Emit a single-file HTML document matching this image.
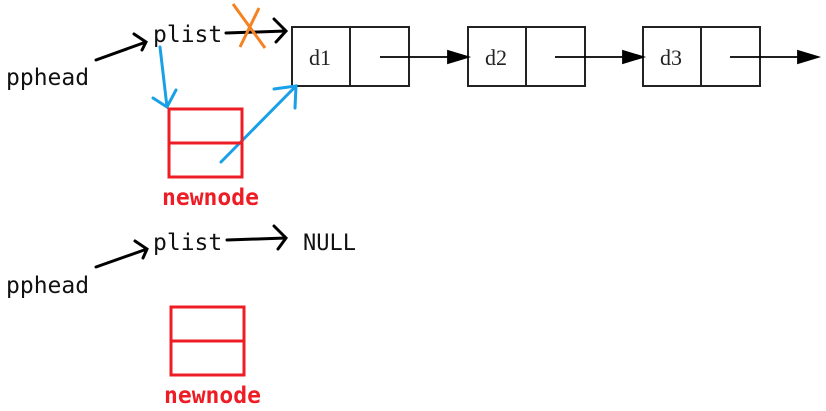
<!DOCTYPE html>
<html><head><meta charset="utf-8"><style>
html,body{margin:0;padding:0;background:#fff;}
svg{display:block;}
.m{font-family:"DejaVu Sans Mono","Liberation Mono",monospace;}
.s{font-family:"Liberation Serif",serif;}
</style></head><body>
<svg width="826" height="411" viewBox="0 0 826 411" xmlns="http://www.w3.org/2000/svg">
<g fill="none" stroke="#222" stroke-width="2">
<rect x="292" y="27" width="117" height="59"/><line x1="350" y1="27" x2="350" y2="86"/>
<rect x="468" y="27" width="117" height="59"/><line x1="526" y1="27" x2="526" y2="86"/>
<rect x="643" y="27" width="117" height="59"/><line x1="701" y1="27" x2="701" y2="86"/>
</g>
<g stroke="#000" stroke-width="1.8">
<line x1="380" y1="57" x2="450" y2="57"/><path d="M448,51 L468,57 L448,63z" fill="#000"/>
<line x1="555" y1="57" x2="625" y2="57"/><path d="M623,51 L643,57 L623,63z" fill="#000"/>
<line x1="730" y1="57" x2="800" y2="57"/><path d="M798,51 L818,57 L798,63z" fill="#000"/>
</g>
<text x="309" y="65" class="s" font-size="22" fill="#222">d1</text>
<text x="485" y="65" class="s" font-size="22" fill="#222">d2</text>
<text x="660" y="65" class="s" font-size="22" fill="#222">d3</text>
<text x="153" y="42" class="m" font-size="23" fill="#111">plist</text>
<text x="6" y="85" class="m" font-size="23" fill="#111">pphead</text>
<g stroke="#000" stroke-width="3" fill="none" stroke-linecap="round">
<path d="M96,60 L146,42 M134,34 L146,42 L142,50"/>
<path d="M226,33 L286,31 M274,19 L286,31 L276,42"/>
<path d="M96,267 L147,249 M135,241 L147,249 L143,258"/>
<path d="M227,240 L286,238 M274,226 L286,238 L278,249"/>
</g>
<g stroke="#f58220" stroke-width="3"><line x1="233" y1="4" x2="265" y2="48"/><line x1="259" y1="8" x2="240" y2="47"/></g>
<g stroke="#1aa0e6" stroke-width="3" fill="none" stroke-linecap="round">
<path d="M160,47 L167,107 M153,98 L167,107 L176,90"/>
<path d="M221,162 L296,86 M274,89 L296,86 L295,108"/>
</g>
<g fill="none" stroke="#ee1c24" stroke-width="3">
<rect x="169" y="109" width="73" height="68"/><line x1="169" y1="143" x2="242" y2="143"/>
<rect x="171" y="307" width="73" height="68"/><line x1="171" y1="341" x2="244" y2="341"/>
</g>
<text x="162" y="205" class="m" font-size="23" font-weight="bold" fill="#ee1c24">newnode</text>
<text x="164" y="403" class="m" font-size="23" font-weight="bold" fill="#ee1c24">newnode</text>
<text x="153" y="250" class="m" font-size="23" fill="#111">plist</text>
<text x="6" y="293" class="m" font-size="23" fill="#111">pphead</text>
<text x="303" y="250" class="m" font-size="22" fill="#111">NULL</text>
</svg>
</body></html>
